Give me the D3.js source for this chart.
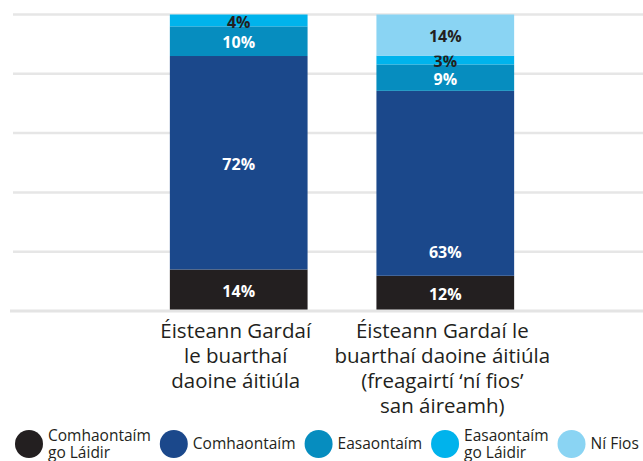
<!DOCTYPE html>
<html>
<head>
<meta charset="utf-8">
<script src="https://cdn.jsdelivr.net/npm/d3@7"></script>
<style>
  html, body { margin: 0; padding: 0; background: #fff; }
  svg { display: block; font-family: "Open Sans", sans-serif; }
</style>
</head>
<body>
<div id="chart"></div>
<script>
// categories (one bar each), label lines underneath
var categories = ["within", "withDontKnow"]
var categoryLines = [
  ["Éisteann Gardaí", "le buarthaí", "daoine áitiúla"],
  ["Éisteann Gardaí le", "buarthaí daoine áitiúla", "(freagairtí ‘ní fios’", "san áireamh)"]
]

// series, bottom to top
var seriesNames = ["Comhaontaím go Láidir", "Comhaontaím", "Easaontaím", "Easaontaím go Láidir", "Ní Fios"]
var legendLines = [["Comhaontaím", "go Láidir"], ["Comhaontaím"], ["Easaontaím"], ["Easaontaím", "go Láidir"], ["Ní Fios"]]
var colours = ["#231f20", "#1b488b", "#068dbf", "#00b3ec", "#8ad4f3"]
var labelColours = ["#fff", "#fff", "#fff", "#231f20", "#231f20"]

// percentages per series, one value for each category
var stronglyAgree    = [14, 12]
var agree            = [72, 63]
var disagree         = [10, 9]
var stronglyDisagree = [4, 3]
var dontKnow         = [0, 14]

var gridTicks = [0, 0.2, 0.4, 0.6, 0.8, 1]

var width = 643, height = 461

var svg = d3.select("#chart").append("svg")
    .attr("width", width)
    .attr("height", height)

var rows = categories.map(function (c, i) {
  return {
    cat: c,
    s0: stronglyAgree[i], s1: agree[i], s2: disagree[i], s3: stronglyDisagree[i], s4: dontKnow[i]
  }
})
var keys = ["s0", "s1", "s2", "s3", "s4"]

// each bar is drawn as a share of its own total
var stacked = d3.stack().keys(keys).offset(d3.stackOffsetExpand)(rows)

var x = d3.scaleBand()
    .domain(categories)
    .range([101, 583])
    .paddingInner(1 / 3)
    .paddingOuter(1 / 3)

var y = d3.scaleLinear()
    .domain([0, 1])
    .range([311, 14.5])

// gridlines
svg.append("g")
  .selectAll("line")
  .data(gridTicks.slice(1))
  .enter().append("line")
    .attr("x1", 13).attr("x2", width)
    .attr("y1", d => y(d)).attr("y2", d => y(d))
    .attr("stroke", "#e6e6e6")
    .attr("stroke-width", 2.5)

// bars
var layers = svg.append("g")
  .selectAll("g")
  .data(stacked)
  .enter().append("g")
    .attr("fill", (d, i) => colours[i])

layers.selectAll("rect")
  .data(d => d)
  .enter().append("rect")
    .attr("x", d => x(d.data.cat))
    .attr("width", x.bandwidth())
    .attr("y", d => y(d[1]))
    .attr("height", d => y(d[0]) - y(d[1]))

// baseline sits over the bars
svg.append("line")
    .attr("x1", 10).attr("x2", width)
    .attr("y1", y(0)).attr("y2", y(0))
    .attr("stroke", "#e4e4e4")
    .attr("stroke-width", 3)

// value labels; the big "agree" label on the 2nd bar sits low in its block
var lowLabels = { "1-1": true }

layers.each(function (layer, si) {
  d3.select(this).selectAll("text")
    .data(layer.filter(d => d.data[keys[si]] > 0))
    .enter().append("text")
      .attr("x", d => x(d.data.cat) + x.bandwidth() / 2)
      .attr("y", function (d) {
        var ci = categories.indexOf(d.data.cat)
        if (lowLabels[si + "-" + ci]) return y(d[0]) - 23
        return (y(d[0]) + y(d[1])) / 2 + 1.5
      })
      .attr("dy", "0.35em")
      .attr("text-anchor", "middle")
      .attr("fill", labelColours[si])
      .attr("font-size", "16px")
      .attr("font-weight", "bold")
      .text(d => d.data[keys[si]] + "%")
})

// category labels
var catLabels = svg.append("g")
  .selectAll("text")
  .data(categories)
  .enter().append("text")
    .attr("text-anchor", "middle")
    .attr("fill", "#231f20")
    .attr("font-size", "20.5px")
    .attr("transform", d => "translate(" + (x(d) + x.bandwidth() / 2 - 3) + ",338)")

catLabels.selectAll("tspan")
  .data((d, i) => categoryLines[i])
  .enter().append("tspan")
    .attr("x", 0)
    .attr("y", (d, i) => i * 25)
    .text(d => d)

// legend
var legend = svg.append("g")
var lx = 15
seriesNames.forEach(function (name, i) {
  var item = legend.append("g")
  item.append("circle")
    .attr("cx", lx + 14)
    .attr("cy", 444)
    .attr("r", 14)
    .attr("fill", colours[i])
  var lines = legendLines[i]
  var t = item.append("text")
    .attr("fill", "#231f20")
    .attr("font-size", "15.5px")
  t.selectAll("tspan")
    .data(lines)
    .enter().append("tspan")
      .attr("x", lx + 33)
      .attr("y", (d, j) => lines.length == 1 ? 449 : 441 + j * 17)
      .text(d => d)
  var w = t.node().getBBox().width
  lx = lx + 33 + w + 9
})
</script>
</body>
</html>
